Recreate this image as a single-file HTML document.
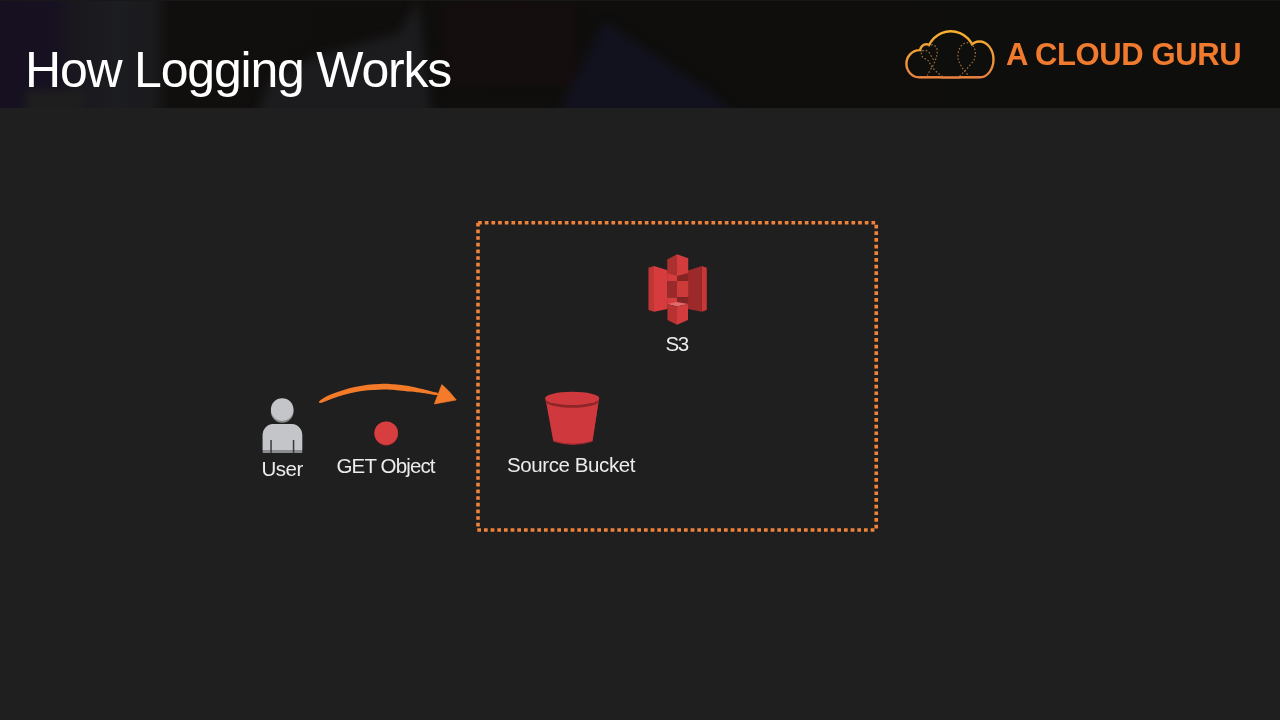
<!DOCTYPE html>
<html><head><meta charset="utf-8">
<style>
html,body{margin:0;padding:0;}
body{width:1280px;height:720px;background:#1f1f1f;position:relative;overflow:hidden;font-family:"Liberation Sans",sans-serif;}
#hdr{position:absolute;left:0;top:0;width:1280px;height:108px;background:#0f0f0f;overflow:hidden;}
.t{position:absolute;white-space:nowrap;line-height:1;}
#title{left:25px;top:44.7px;font-size:50px;color:#fff;letter-spacing:-1.2px;}
#brand{left:1006px;top:38.5px;font-size:31px;letter-spacing:-0.4px;font-weight:bold;color:#f07a2e;}
.lbl{color:#ececec;font-size:20.5px;}
svg{position:absolute;overflow:visible;}
</style></head>
<body>
<div id="hdr">
  <div style="position:absolute;left:0;top:0;width:1280px;height:108px;background:linear-gradient(90deg,#161020 0px,#171121 55px,#1a181e 75px,#1c1d21 120px,#1b1a1d 150px,#110f0e 170px,#0f0e0d 600px,#0e0e0c 1280px);"></div>
  <div style="position:absolute;left:0;top:0;width:1280px;height:108px;filter:blur(5px);">
    <div style="position:absolute;left:25px;top:90px;width:60px;height:30px;background:#1e1e1f"></div>
    <div style="position:absolute;left:250px;top:0;width:190px;height:120px;background:#1c1c1e;clip-path:polygon(5px 120px,20px 80px,70px 55px,150px 33px,168px 0px,182px 120px)"></div>
    <div style="position:absolute;left:445px;top:0;width:130px;height:85px;background:#150e0e"></div>
    <div style="position:absolute;left:540px;top:0;width:220px;height:120px;background:#12121f;clip-path:polygon(65px 22px,172px 94px,200px 120px,15px 120px)"></div>
  </div>
  <div style="position:absolute;left:0;top:0;width:1280px;height:1px;background:#181818"></div>
  <div class="t" id="title">How Logging Works</div>
  <div class="t" id="brand">A CLOUD GURU</div>
</div>

<!-- dotted box -->
<svg style="left:0;top:0" width="1280" height="720">
  <g stroke="#f0823a" stroke-width="3.6" stroke-dasharray="3.7 2.967" fill="none">
    <line x1="478.1" y1="222.75" x2="878" y2="222.75"/>
    <line x1="876.25" y1="224.7" x2="876.25" y2="529"/>
    <line x1="477.3" y1="529.95" x2="875" y2="529.95"/>
    <line x1="478" y1="222.8" x2="478" y2="529"/>
  </g>
</svg>

<!-- user icon -->
<svg style="left:0;top:0" width="1280" height="720">
  <circle cx="282.2" cy="411.5" r="11.3" fill="#8a8b8e"/>
  <circle cx="282.2" cy="409.6" r="11.3" fill="#c4c5c8"/>
  <path d="M262.7 453 V435 a11 11 0 0 1 11 -11 H291.2 a11 11 0 0 1 11 11 V453 Z" fill="#8a8b8e"/>
  <path d="M262.7 450 V435 a11 11 0 0 1 11 -11 H291.2 a11 11 0 0 1 11 11 V450 Z" fill="#c4c5c8"/>
  <rect x="270.3" y="440" width="1.5" height="13" fill="#3a3a3c"/>
  <rect x="292.8" y="440" width="1.5" height="13" fill="#3a3a3c"/>
</svg>

<!-- arrow -->
<svg style="left:0;top:0" width="1280" height="720">
  <path d="M319.00 401.60 C319.38 400.78 321.53 399.20 323.80 397.90 C326.07 396.60 329.18 395.17 332.60 393.80 C336.02 392.43 340.40 390.87 344.30 389.70 C348.20 388.53 352.10 387.63 356.00 386.80 C359.90 385.97 363.80 385.18 367.70 384.70 C371.60 384.22 375.68 384.03 379.40 383.90 C383.12 383.77 386.72 383.75 390.00 383.90 C393.28 384.05 395.63 384.38 399.10 384.80 C402.57 385.22 406.90 385.70 410.80 386.40 C414.70 387.10 418.98 388.13 422.50 389.00 C426.02 389.87 429.40 390.93 431.90 391.60 C434.40 392.27 436.57 392.43 437.50 393.00 C438.43 393.57 438.43 394.77 437.50 395.00 C436.57 395.23 434.40 394.73 431.90 394.40 C429.40 394.07 426.02 393.47 422.50 393.00 C418.98 392.53 414.70 392.03 410.80 391.60 C406.90 391.17 402.57 390.72 399.10 390.40 C395.63 390.08 393.28 389.82 390.00 389.70 C386.72 389.58 383.12 389.60 379.40 389.70 C375.68 389.80 371.60 389.90 367.70 390.30 C363.80 390.70 359.90 391.37 356.00 392.10 C352.10 392.83 348.20 393.63 344.30 394.70 C340.40 395.77 336.40 397.15 332.60 398.50 C328.80 399.85 323.77 402.28 321.50 402.80 C319.23 403.32 318.62 402.42 319.00 401.60 Z" fill="#f27a29"/>
  <path d="M441.8 384.6 Q448.5 390 456.3 400 L434.3 404 Z" fill="#f47b2a" stroke="#f47b2a" stroke-width="0.6" stroke-linejoin="round"/>
</svg>

<!-- red dot -->
<svg style="left:0;top:0" width="1280" height="720">
  <circle cx="386.2" cy="433.6" r="11.9" fill="#a8302f"/>
  <circle cx="386.2" cy="433.1" r="11.7" fill="#d63e3f"/>
</svg>

<!-- S3 icon -->
<svg style="left:644px;top:250px" width="68" height="80" viewBox="0 0 612 720">
  <polygon points="40,160 90,145 90,555 40,540" fill="#c23535"/>
  <polygon points="90,145 212,182 212,530 90,555" fill="#d63c3e"/>
  <polygon points="396,185 520,145 520,555 396,530" fill="#9c2a2a"/>
  <polygon points="520,145 565,160 565,540 520,555" fill="#c83636"/>
  <polygon points="209,200 297,200 297,279 209,279" fill="#d63c3e"/>
  <polygon points="297,200 398,200 398,279 297,279" fill="#862424"/>
  <polygon points="209,279 297,279 297,427 209,427" fill="#9a2a2a"/>
  <polygon points="297,279 398,279 398,427 297,427" fill="#cc3a3a"/>
  <polygon points="209,427 297,427 297,490 209,490" fill="#d63c3e"/>
  <polygon points="297,427 398,427 398,490 297,490" fill="#862424"/>
  <polygon points="209,85 297,38 297,234 209,210" fill="#ac3030"/>
  <polygon points="297,38 398,75 398,207 297,234" fill="#d23c3c"/>
  <polygon points="211,486 297,468 396,486 297,508" fill="#e26a6a"/>
  <polygon points="211,486 297,508 297,672 211,630" fill="#b83232"/>
  <polygon points="297,508 396,486 396,630 297,672" fill="#d23c3c"/>
</svg>

<!-- bucket -->
<svg style="left:0;top:0" width="1280" height="720">
  <path d="M545.8 400 L553.3 441.8 Q572.9 448.3 592.6 441.8 L598.8 400 Z" fill="#a12a31"/>
  <path d="M545.8 400 L553.4 440.6 Q572.9 446.6 592.5 440.6 L598.8 400 Z" fill="#cf393e"/>
  <ellipse cx="572.2" cy="400.8" rx="27.1" ry="6.9" fill="#8e2629"/>
  <ellipse cx="572.2" cy="398.4" rx="27.1" ry="6.6" fill="#cf393e"/>
</svg>

<div class="t lbl" style="left:261.5px;top:458.7px;letter-spacing:-0.5px">User</div>
<div class="t lbl" style="left:336.5px;top:455.5px;letter-spacing:-0.85px">GET Object</div>
<div class="t lbl" style="left:507px;top:455.4px;letter-spacing:-0.4px">Source Bucket</div>
<div class="t lbl" style="left:665.5px;top:333.9px;letter-spacing:-1.5px">S3</div>

<!-- cloud logo -->
<svg style="left:0;top:0" width="1280" height="720">
  <defs><linearGradient id="cg" gradientUnits="userSpaceOnUse" x1="0" y1="29" x2="0" y2="79"><stop offset="0" stop-color="#f6b22e"/><stop offset="0.55" stop-color="#f09a36"/><stop offset="1" stop-color="#ea8242"/></linearGradient>
  <clipPath id="co"><rect x="890" y="20" width="120" height="58.70"/></clipPath>
  <clipPath id="ci"><rect x="890" y="20" width="120" height="56.30"/></clipPath></defs>
  <path d="M905.20 63.80 A14.50 14.90 0 0 1 934.20 63.80 A14.50 14.90 0 0 1 905.20 63.80 Z M919.00 50.50 A7.50 7.50 0 0 1 934.00 50.50 A7.50 7.50 0 0 1 919.00 50.50 Z M925.50 55.40 A25.30 25.30 0 0 1 976.10 55.40 A25.30 25.30 0 0 1 925.50 55.40 Z M964.30 59.50 A15.20 19.20 0 0 1 994.70 59.50 A15.20 19.20 0 0 1 964.30 59.50 Z M919.7 55 H979.5 V78.70 H919.7 Z" fill="url(#cg)" clip-path="url(#co)"/>
  <path d="M907.60 63.80 A12.10 12.50 0 0 1 931.80 63.80 A12.10 12.50 0 0 1 907.60 63.80 Z M921.40 50.50 A5.10 5.10 0 0 1 931.60 50.50 A5.10 5.10 0 0 1 921.40 50.50 Z M927.90 55.40 A22.90 22.90 0 0 1 973.70 55.40 A22.90 22.90 0 0 1 927.90 55.40 Z M966.70 59.50 A12.80 16.80 0 0 1 992.30 59.50 A12.80 16.80 0 0 1 966.70 59.50 Z M919.7 55 H979.5 V76.30 H919.7 Z" fill="#0e0e0c" clip-path="url(#ci)"/>
  <g fill="none" stroke="#a0703e" stroke-width="1.2" stroke-dasharray="1.6 1.9">
    <path d="M959.6 76 C962 74 970 66 974 60 C977 53 975 44 968 42.8 C961 42 957 52 958 58 C959 64 964 71 969.1 76.4"/>
    <path d="M927.3 75.6 C929 72 933 66 935 61 C937 56 938.5 50 936 47 C934 44 930 44.5 928.5 46.5"/>
    <path d="M942.7 76.4 C938 74 932 68 930 63.8 C929 61 928 60 924.5 58.5 C921 57 920.5 53 922.5 51 C925 49 928.5 51 930 54 C931.5 57 933 59 934 60"/>
  </g>
</svg>
</body></html>
